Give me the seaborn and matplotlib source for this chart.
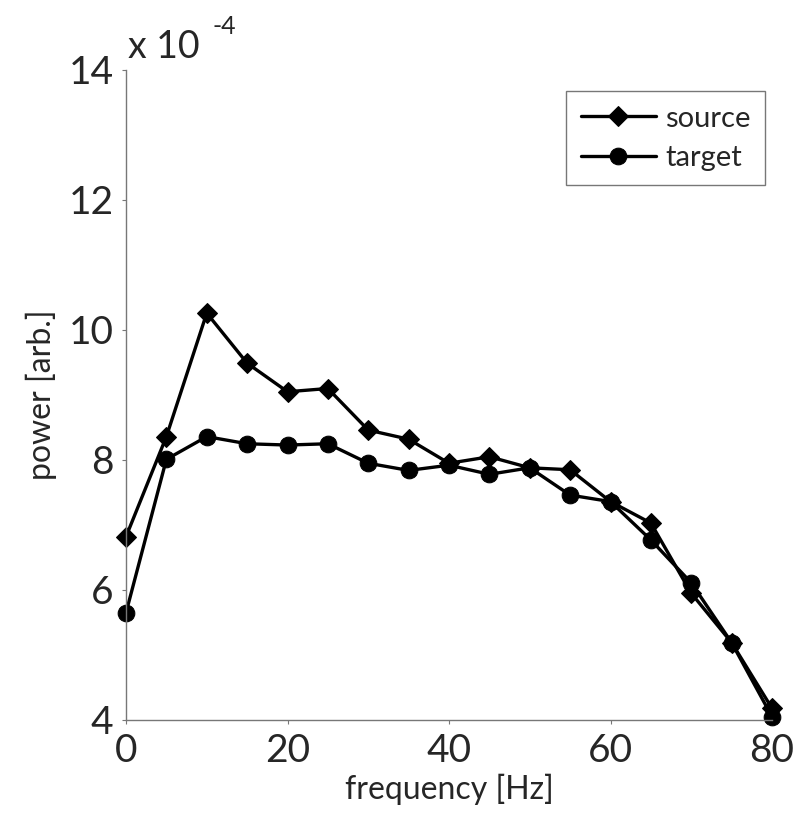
import matplotlib
matplotlib.use("Agg")
import matplotlib.pyplot as plt
import seaborn as sns
import pandas as pd
from matplotlib.transforms import offset_copy

freq = [0, 5, 10, 15, 20, 25, 30, 35, 40, 45, 50, 55, 60, 65, 70, 75, 80]
source = [6.82, 8.36, 10.26, 9.49, 9.05, 9.10, 8.46, 8.32, 7.95, 8.05, 7.88, 7.85, 7.36, 7.03, 5.95, 5.19, 4.18]
target = [5.65, 8.01, 8.36, 8.25, 8.23, 8.25, 7.95, 7.84, 7.92, 7.78, 7.88, 7.46, 7.36, 6.77, 6.11, 5.19, 4.05]

df = pd.DataFrame({"freq": freq + freq,
                   "power": source + target,
                   "series": ["source"] * len(freq) + ["target"] * len(freq)})

sns.set_style("white")
plt.rcParams['font.family'] = ['Lato', 'DejaVu Sans']

fig = plt.figure(figsize=(7.97, 8.27), dpi=100)
ax = fig.add_axes([126 / 797, 1 - 720 / 827, (772 - 126) / 797, (720 - 70) / 827])

sns.lineplot(data=df[df.series == "source"], x="freq", y="power", ax=ax,
             color="black", linewidth=2.4, marker="D", markersize=10,
             markeredgecolor="black", label="source")
sns.lineplot(data=df[df.series == "target"], x="freq", y="power", ax=ax,
             color="black", linewidth=2.4, marker="o", markersize=12,
             markeredgecolor="black", label="target")

ax.set_xlim(0, 80)
ax.set_ylim(4, 14)
ax.set_xticks([0, 20, 40, 60, 80])
ax.set_yticks([4, 6, 8, 10, 12, 14])
ax.tick_params(axis="both", labelsize=28, length=3, width=0.8, color="#777777",
               direction="out", bottom=True, left=True, pad=6)
for s in ["top", "right"]:
    ax.spines[s].set_visible(False)
for s in ["left", "bottom"]:
    ax.spines[s].set_color("#777777")
    ax.spines[s].set_linewidth(1.0)

ax.set_xlabel("frequency [Hz]", fontsize=23, labelpad=4)
ax.set_ylabel("power [arb.]", fontsize=23, labelpad=8)
for l in ax.lines:
    l.set_clip_on(False)

ax.text(0.003, 1.008, "x 10", transform=ax.transAxes,
        fontsize=27, ha="left", va="bottom")
ax.text(0.003, 1.008, "-4", fontsize=18, ha="left", va="bottom",
        transform=offset_copy(ax.transAxes, fig=fig, x=61, y=19, units="points"))

leg = ax.legend(loc="upper right", bbox_to_anchor=(1.012, 0.99), fontsize=21,
                frameon=True, fancybox=False, edgecolor="#555555",
                handlelength=2.6, handletextpad=0.3, borderpad=0.5,
                labelspacing=0.45)
leg.get_frame().set_linewidth(1.0)

fig.savefig("out.png", dpi=100)
